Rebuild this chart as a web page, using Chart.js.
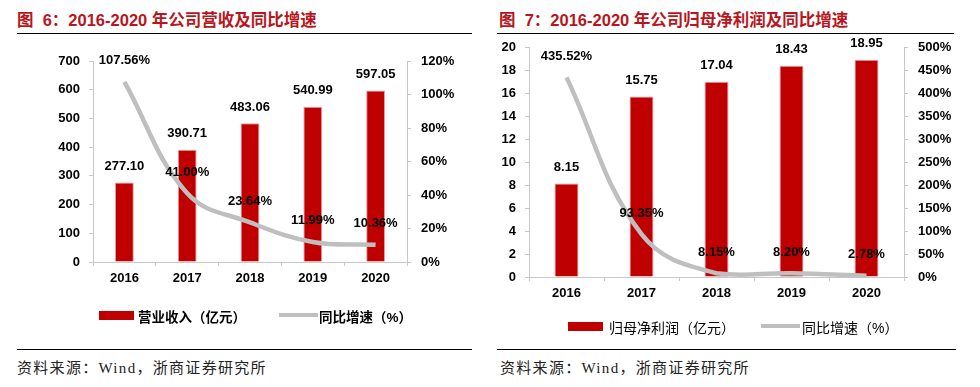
<!DOCTYPE html>
<html>
<head>
<meta charset="utf-8">
<script src="https://cdn.jsdelivr.net/npm/chart.js@4"></script>
<style>
  body { margin: 0; width: 980px; height: 387px; background: #fff; position: relative; overflow: hidden;
         font-family: "Liberation Sans", "Noto Sans CJK SC", sans-serif; }
  .title { position: absolute; top: 7px; font-size: 16.5px; font-weight: bold; color: #B8161C; white-space: nowrap; }
  .rule { position: absolute; height: 0; border-top: 1.5px solid #000; }
  .src { position: absolute; top: 356px; font-family: "Liberation Serif", "Noto Sans CJK SC", serif; font-size: 15px;
         letter-spacing: 1.3px; color: #222; white-space: nowrap; }
  .legend { position: absolute; font-size: 14px; color: #000; white-space: nowrap; }
  .box { position: absolute; width: 35px; height: 9px; background: #C00000; }
  .ln { position: absolute; width: 39px; height: 4px; background: #BFBFBF; }
  canvas { position: absolute; }
</style>
</head>
<body>
<div class="title" style="left:17px">图&nbsp; 6：2016-2020 年公司营收及同比增速</div>
<div class="title" style="left:499px">图&nbsp; 7：2016-2020 年公司归母净利润及同比增速</div>
<div class="rule" style="left:17px; width:455px; top:33px"></div>
<div class="rule" style="left:497px; width:457px; top:33px"></div>

<div id="wrapL" style="position:absolute; left:0; top:40px; width:490px; height:260px"><canvas id="left"></canvas></div>
<div id="wrapR" style="position:absolute; left:490px; top:30px; width:490px; height:283px"><canvas id="right"></canvas></div>

<div class="box" style="left:99px; top:311px"></div>
<div class="legend" style="left:138px; top:306px; font-weight:bold; font-size:13.5px">营业收入（亿元）</div>
<div class="ln" style="left:279px; top:313px"></div>
<div class="legend" style="left:319px; top:306px; font-weight:bold; font-size:13.5px">同比增速（%）</div>

<div class="box" style="left:568px; top:322px"></div>
<div class="legend" style="left:609px; top:317px">归母净利润（亿元）</div>
<div class="ln" style="left:761px; top:324px"></div>
<div class="legend" style="left:802px; top:317px">同比增速（%）</div>

<div class="rule" style="left:17px; width:455px; top:349px"></div>
<div class="rule" style="left:497px; width:459px; top:349px"></div>
<div class="src" style="left:17px">资料来源：Wind，浙商证券研究所</div>
<div class="src" style="left:500px">资料来源：Wind，浙商证券研究所</div>

<script>
// data
const years = ['2016', '2017', '2018', '2019', '2020'];
const revenue = [277.10, 390.71, 483.06, 540.99, 597.05];
const revenueGrowth = [107.56, 41.00, 23.64, 11.99, 10.36];
const profit = [8.15, 15.75, 17.04, 18.43, 18.95];
const profitGrowth = [435.52, 93.35, 8.15, 8.20, 2.78];

const RED = '#C00000';
const GREY = '#BFBFBF';
const AXIS = '#C8C8C8';
const tickFont = { family: 'Liberation Sans', size: 13, weight: 'bold' };

// draws the value labels above bars and line points
const valueLabels = {
  id: 'valueLabels',
  afterDatasetsDraw(chart) {
    const ctx = chart.ctx;
    ctx.save();
    ctx.font = 'bold 13px "Liberation Sans"';
    ctx.fillStyle = '#000';
    ctx.textAlign = 'center';
    ctx.textBaseline = 'middle';
    chart.data.datasets.forEach((ds, i) => {
      const meta = chart.getDatasetMeta(i);
      meta.data.forEach((el, j) => {
        const v = ds.data[j];
        if (ds.type === 'line') {
          ctx.fillText(v.toFixed(2) + '%', el.x, el.y - 21);
        } else {
          ctx.fillText(v.toFixed(2), el.x, el.y - 16);
        }
      });
    });
    ctx.restore();
  }
};

function makeChart(id, bars, growth, opt) {
  new Chart(document.getElementById(id), {
    data: {
      labels: years,
      datasets: [
        {
          type: 'line', data: growth, yAxisID: 'y1',
          borderColor: GREY, borderWidth: 4.5, tension: 0.4,
          pointRadius: 0, clip: false, order: 0
        },
        {
          type: 'bar', data: bars, yAxisID: 'y',
          backgroundColor: RED, borderColor: '#E3A0A0', borderWidth: 1,
          barPercentage: opt.barPct, categoryPercentage: 1, order: 1
        }
      ]
    },
    options: {
      responsive: true,
      maintainAspectRatio: false,
      animation: false,
      layout: { padding: { top: opt.padTop, left: 0, right: 0, bottom: 0 } },
      plugins: { legend: { display: false }, tooltip: { enabled: false } },
      scales: {
        x: {
          grid: { offset: true, drawOnChartArea: false, color: AXIS, tickLength: 4 },
          border: { color: AXIS },
          ticks: { font: tickFont, color: '#000', padding: 5 },
          afterFit(s) { s.height = opt.xH; }
        },
        y: {
          position: 'left', min: 0, max: opt.yMax,
          grid: { drawOnChartArea: false, color: AXIS, tickLength: 4 },
          border: { color: AXIS },
          ticks: { stepSize: opt.yStep, font: tickFont, color: '#000', padding: 9 },
          afterFit(s) { s.width = opt.leftW; }
        },
        y1: {
          position: 'right', min: 0, max: opt.y1Max,
          grid: { drawOnChartArea: false, color: AXIS, tickLength: 4 },
          border: { color: AXIS },
          ticks: { stepSize: opt.y1Step, font: tickFont, color: '#000', padding: 10,
                   callback: v => v + '%' },
          afterFit(s) { s.width = opt.rightW; }
        }
      }
    },
    plugins: [valueLabels]
  });
}

makeChart('left', revenue, revenueGrowth,
  { barPct: 0.3, padTop: 21, xH: 38, leftW: 93, rightW: 83, yMax: 700, yStep: 100, y1Max: 120, y1Step: 20 });
makeChart('right', profit, profitGrowth,
  { barPct: 0.32, padTop: 16, xH: 36, leftW: 39, rightW: 76, yMax: 20, yStep: 2, y1Max: 500, y1Step: 50 });
</script>
</body>
</html>
